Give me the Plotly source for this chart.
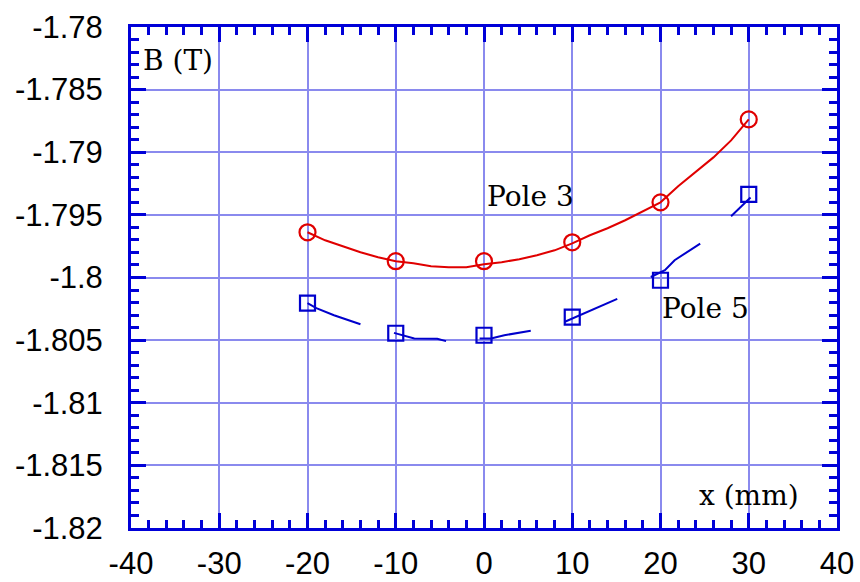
import plotly.graph_objects as go

# Field measurements B (T) versus transverse position x (mm)
# Pole 3: continuous scan plus measured points
pole3_scan_x = [-20, -18, -16, -14, -12, -10, -8, -6, -4, -2, 0, 2, 4, 6, 8,
                10, 12, 14, 16, 18, 20, 22, 24, 26, 28, 30]
pole3_scan_b = [-1.79639, -1.79703, -1.79751, -1.79799, -1.79838, -1.79870,
                -1.79886, -1.79910, -1.79918, -1.79918, -1.79894, -1.79878,
                -1.79854, -1.79822, -1.79783, -1.79727, -1.79663, -1.79607,
                -1.79543, -1.79472, -1.79400, -1.79272, -1.79153, -1.79041,
                -1.78905, -1.78738]
pole3_pts_x = [-20, -10, 0, 10, 20, 30]
pole3_pts_b = [-1.79639, -1.79870, -1.79870, -1.79719, -1.79400, -1.78738]

# Pole 5: scan recorded in short runs (None separates the runs)
pole5_scan_x = [-20, -19, -17, -15, -14, None,
                -10.2, -8.7, -7.9, -5.3, -4.7, -4.3, None,
                -0.5, 0.8, 2.3, 3.8, 5.3, None,
                9.1, 10.3, 11.8, 13.3, 15.1, None,
                18.9, 20.5, 21.6, 23.1, 24.5, None,
                28.0, 30.2]
pole5_scan_b = [-1.80205, -1.80245, -1.80301, -1.80349, -1.80373, None,
                -1.80442, -1.80474, -1.80487, -1.80490, -1.80500, -1.80508, None,
                -1.80487, -1.80487, -1.80461, -1.80442, -1.80426, None,
                -1.80355, -1.80319, -1.80275, -1.80229, -1.80171, None,
                -1.79996, -1.79942, -1.79862, -1.79796, -1.79729, None,
                -1.79511, -1.79362]
pole5_pts_x = [-20, -10, 0, 10, 20, 30]
pole5_pts_b = [-1.80205, -1.80445, -1.80461, -1.80317, -1.80022, -1.79336]

x_tick_vals = [-40, -30, -20, -10, 0, 10, 20, 30, 40]
x_tick_text = ["-40", "-30", "-20", "-10", "0", "10", "20", "30", "40"]
y_tick_vals = [-1.82, -1.815, -1.81, -1.805, -1.8, -1.795, -1.79, -1.785, -1.78]
y_tick_text = ["-1.82", "-1.815", "-1.81", "-1.805", "-1.8", "-1.795", "-1.79",
               "-1.785", "-1.78"]

RED = "#E00000"
BLUE = "#0000CC"
AXIS = "#0000D8"
GRID = "#8A8AEE"
SERIF = "DejaVu Serif"

fig = go.Figure()

fig.add_trace(go.Scatter(x=pole3_scan_x, y=pole3_scan_b, mode="lines",
                         line=dict(color=RED, width=2), showlegend=False))
fig.add_trace(go.Scatter(x=pole3_pts_x, y=pole3_pts_b, mode="markers",
                         marker=dict(symbol="circle-open", size=16, color=RED,
                                     line=dict(width=2.2, color=RED)),
                         showlegend=False))
fig.add_trace(go.Scatter(x=pole5_scan_x, y=pole5_scan_b, mode="lines",
                         line=dict(color=BLUE, width=2), connectgaps=False,
                         showlegend=False))
fig.add_trace(go.Scatter(x=pole5_pts_x, y=pole5_pts_b, mode="markers",
                         marker=dict(symbol="square-open", size=15, color=BLUE,
                                     line=dict(width=2.2, color=BLUE)),
                         showlegend=False))

axis_common = dict(
    showline=True, linecolor=AXIS, linewidth=3, mirror="ticks",
    ticks="inside", ticklen=15, tickwidth=3, tickcolor=AXIS,
    showgrid=True, gridcolor=GRID, gridwidth=2, zeroline=False,
    automargin=False,
    tickfont=dict(family="Liberation Sans, Arial, sans-serif", size=31, color="black"),
)

fig.update_xaxes(range=[-40, 40], tickmode="array", tickvals=x_tick_vals,
                 ticktext=x_tick_text,
                 minor=dict(tick0=-40, dtick=2, ticks="inside", ticklen=8,
                            tickwidth=2.5, tickcolor=AXIS, showgrid=False),
                 ticklabelstandoff=6, **axis_common)
fig.update_yaxes(range=[-1.82, -1.78], tickmode="array", tickvals=y_tick_vals,
                 ticktext=y_tick_text,
                 minor=dict(tick0=-1.82, dtick=0.001, ticks="inside", ticklen=8,
                            tickwidth=2.5, tickcolor=AXIS, showgrid=False),
                 ticklabelstandoff=19, **axis_common)

label_font = dict(family=SERIF, size=28, color="black")
annotations = [
    dict(x=-38.9, y=-1.7827, text="B (T)"),
    dict(x=0.1, y=-1.7935, text="Pole 3"),
    dict(x=19.9, y=-1.8025, text="Pole 5"),
    dict(x=24.1, y=-1.8174, text="x (mm)"),
]
for a in annotations:
    fig.add_annotation(x=a["x"], y=a["y"], text=a["text"], showarrow=False,
                       xanchor="left", yanchor="middle", font=label_font)

fig.update_layout(
    width=860, height=582,
    margin=dict(l=131, r=23, t=27, b=54),
    plot_bgcolor="white", paper_bgcolor="white",
)

fig.write_html("out.html")
